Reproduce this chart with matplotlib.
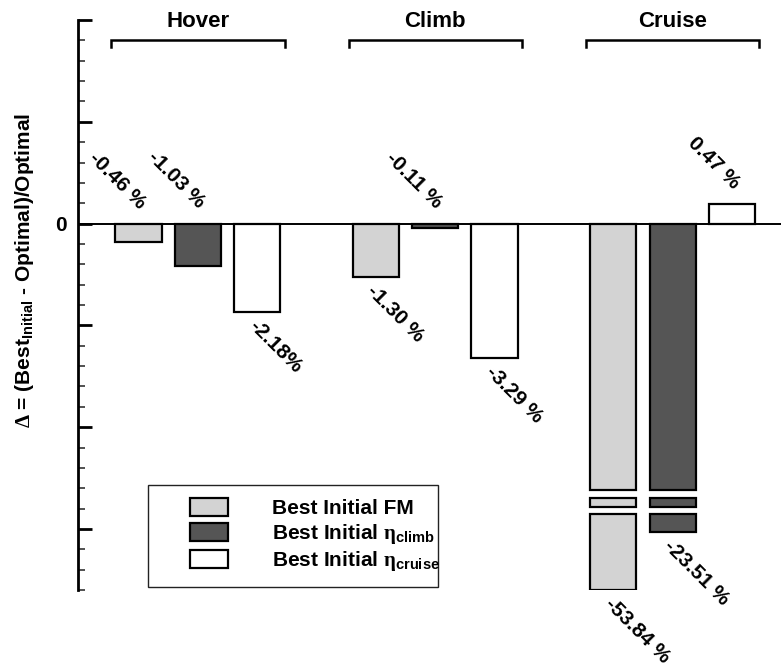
import matplotlib
matplotlib.use("Agg")
import matplotlib.pyplot as plt
import numpy as np
from matplotlib.patches import Patch, Rectangle
from matplotlib.ticker import FixedLocator, FuncFormatter

plt.rcParams['font.family'] = ['Liberation Sans', 'DejaVu Sans']
plt.rcParams['font.weight'] = 'bold'
plt.rcParams['mathtext.fontset'] = 'custom'
plt.rcParams['mathtext.rm'] = 'Liberation Serif'
plt.rcParams['mathtext.it'] = 'Liberation Serif'
plt.rcParams['mathtext.bf'] = 'Liberation Sans:bold'

# flight conditions and the three starting designs
groups = ['Hover', 'Climb', 'Cruise']
series = ['Best Initial FM',
          r'Best Initial $\eta_{\mathbf{climb}}$',
          r'Best Initial $\eta_{\mathbf{cruise}}$']

# relative difference to the optimum, in percent
fm_vals = [-0.46, -1.30, -53.84]
climb_vals = [-1.03, -0.11, -23.51]
cruise_vals = [-2.18, -3.29, 0.47]

fm_labels = ['-0.46 %', '-1.30 %', '-53.84 %']
climb_labels = ['-1.03 %', '-0.11 %', '-23.51 %']
cruise_labels = ['-2.18%', '-3.29 %', '0.47 %']

colors = ['#d3d3d3', '#555555', '#ffffff']

# broken axis: values below -6.55 get squeezed so the big cruise bars fit
brk_data = [-70.0, -14.2, -6.55, 10.0]
brk_disp = [-9.0 + 0.04616 * (-70.0 + 53.84), -7.14, -6.55, 10.0]


def fwd(y):
    return np.interp(y, brk_data, brk_disp)


def inv(d):
    return np.interp(d, brk_disp, brk_data)


fig = plt.figure(figsize=(7.81, 6.68), dpi=100)
ax = fig.add_axes([78 / 781, 78 / 668, 703 / 781, 570 / 668])
ax.set_yscale('function', functions=(fwd, inv))
ax.set_xlim(-2.02, 9.825)
ax.set_ylim(inv(-9.0), 5.0)

width = 0.78
gap_top, piece_top, piece_bot = -6.55, inv(-6.75), inv(-6.97)
lower_top = -14.2
fs = 15

all_vals = [fm_vals, climb_vals, cruise_vals]
all_labels = [fm_labels, climb_labels, cruise_labels]
for s, (vals, labs) in enumerate(zip(all_vals, all_labels)):
    for g, (v, lab) in enumerate(zip(vals, labs)):
        x = 4 * g + (s - 1)
        kw = dict(width=width, color=colors[s], edgecolor='black', linewidth=1.6)
        if v < gap_top:
            # bar interrupted by two white gaps
            ax.bar(x, gap_top, **kw)
            ax.bar(x, piece_bot - piece_top, bottom=piece_top, **kw)
            ax.bar(x, v - lower_top, bottom=lower_top, **kw)
        else:
            ax.bar(x, v, **kw)

        if v > -1.1:
            top = max(v, 0)
            ax.annotate(lab, (x, top), xytext=(3, 13), textcoords='offset points',
                        rotation=-45, rotation_mode='anchor', ha='right', va='center',
                        fontsize=fs, fontweight='bold')
        else:
            ax.annotate(lab, (x, v), xytext=(-4, -8), textcoords='offset points',
                        rotation=-45, rotation_mode='anchor', ha='left', va='center',
                        fontsize=fs, fontweight='bold')

ax.axhline(0, color='black', lw=1.4, zorder=1)

# group brackets with titles
for g, name in enumerate(groups):
    c = 4 * g
    ax.plot([c - 1.46, c - 1.46, c + 1.46, c + 1.46], [4.34, 4.51, 4.51, 4.34],
            color='black', lw=1.8, clip_on=False, solid_joinstyle='miter')
    ax.text(c, 4.97, name, ha='center', va='center', fontsize=16, fontweight='bold')

# axis styling
for side in ['top', 'right', 'bottom']:
    ax.spines[side].set_visible(False)
ax.spines['left'].set_linewidth(2.0)
ax.set_xticks([])
major = np.arange(-7.5, 5.01, 2.5)
minor = np.arange(-9.0, 5.01, 0.5)
ax.yaxis.set_major_locator(FixedLocator(inv(major)))
ax.yaxis.set_minor_locator(FixedLocator(inv(minor)))
ax.yaxis.set_major_formatter(FuncFormatter(lambda y, p: '0' if abs(y) < 1e-9 else ''))
ax.tick_params(axis='y', which='major', direction='in', length=10, width=2.0,
               labelsize=15, pad=8)
ax.tick_params(axis='y', which='minor', direction='in', length=5, width=1.2,
               color='#333333')

ax.set_ylabel(r'$\Delta$ = (Best$_{\mathbf{Initial}}$ - Optimal)/Optimal',
              fontsize=15, fontweight='bold')
ax.yaxis.set_label_coords(-0.06, 0.56)

# legend with hand-placed frame
px = lambda x, y: ((x - 78) / 703, (590 - y) / 570)
x0, y0 = px(148, 587)
x1, y1 = px(438, 485)
ax.add_patch(Rectangle((x0, y0), x1 - x0, y1 - y0, transform=ax.transAxes,
                       fill=False, edgecolor='#222222', lw=1.0, clip_on=False))
handles = [Patch(facecolor=c, edgecolor='black', linewidth=1.6) for c in colors]
ax.legend(handles, series, loc='upper left', bbox_to_anchor=px(190, 498),
          frameon=False, prop={'weight': 'bold', 'size': 15},
          handlelength=1.83, handleheight=0.96, handletextpad=2.1,
          labelspacing=0.17, borderpad=0, borderaxespad=0)

fig.savefig('out.png', dpi=100)
